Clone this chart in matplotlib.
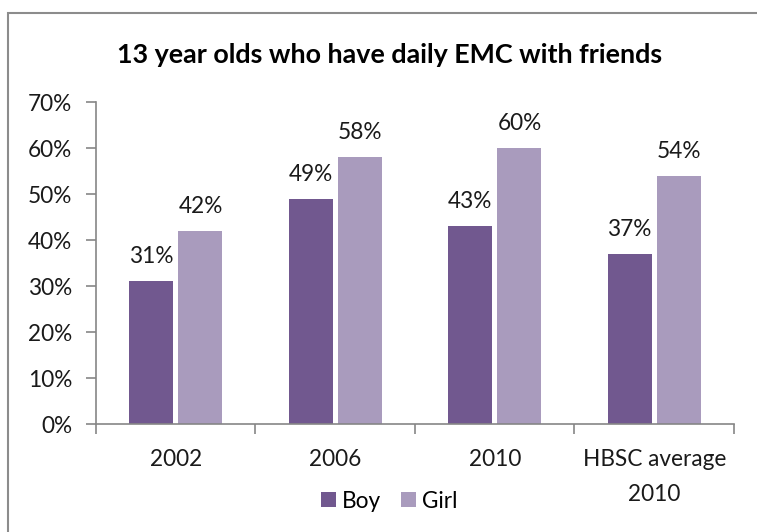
import matplotlib
matplotlib.use("Agg")
import matplotlib.pyplot as plt
from matplotlib.patches import Rectangle
import numpy as np

categories = ["2002", "2006", "2010", "HBSC average\n2010"]
boy = [31, 49, 43, 37]
girl = [42, 58, 60, 54]
yticks = [0, 10, 20, 30, 40, 50, 60, 70]

plt.rcParams["font.family"] = ["Lato", "DejaVu Sans"]

BOY_COLOR = "#71588F"
GIRL_COLOR = "#A99BBD"
AXIS_COLOR = "#868686"
FS = 16.3

fig = plt.figure(figsize=(7.57, 5.32), dpi=100)
ax = fig.add_axes([0.1268, 0.203, 0.8428, 0.605])

x = np.arange(len(categories))
w = 0.276
off = 0.155
bars_b = ax.bar(x - off, boy, w, color=BOY_COLOR, label="Boy", zorder=2)
bars_g = ax.bar(x + off, girl, w, color=GIRL_COLOR, label="Girl", zorder=2)

for bars, vals in ((bars_b, boy), (bars_g, girl)):
    for b, v in zip(bars, vals):
        ax.annotate(f"{v}%", (b.get_x() + b.get_width() / 2, v),
                    xytext=(0, 13.0), textcoords="offset points",
                    ha="center", va="baseline", fontsize=FS, color="#1a1a1a")

ax.set_xlim(-0.5, len(categories) - 0.5)
ax.set_ylim(0, 70)
ax.set_yticks(yticks)
ax.set_yticklabels([f"{t}%" for t in yticks], fontsize=FS, color="#1a1a1a")
ax.set_xticks(x)
ax.set_xticklabels(categories, fontsize=FS, color="#1a1a1a", linespacing=1.85)
ax.tick_params(axis="x", length=0, pad=18)
ax.tick_params(axis="y", length=7, width=1.2, color=AXIS_COLOR, pad=10)

# category separators on the x axis
ax.set_xticks(np.arange(len(categories) + 1) - 0.5, minor=True)
ax.tick_params(axis="x", which="minor", length=7, width=1.2, color=AXIS_COLOR,
               direction="out")

for s in ("top", "right"):
    ax.spines[s].set_visible(False)
for s in ("left", "bottom"):
    ax.spines[s].set_color(AXIS_COLOR)
    ax.spines[s].set_linewidth(1.2)

fig.text(0.5145, 0.897, "13 year olds who have daily EMC with friends",
         ha="center", va="center", fontsize=19.4, fontweight="bold", color="#000000")

leg = fig.legend(handles=[bars_b, bars_g], labels=["Boy", "Girl"],
                 loc="center", bbox_to_anchor=(0.514, 0.058), ncol=2,
                 frameon=False, fontsize=FS, handlelength=0.68,
                 handleheight=0.68, handletextpad=0.27, columnspacing=0.85,
                 borderpad=0.2)

# outer chart border
fig.patches.append(Rectangle((7.5 / 757, -0.05), 1.1, 1 - 12.5 / 532 + 0.05,
                             transform=fig.transFigure, fill=False,
                             edgecolor="#8c8c8c", linewidth=1.5))

fig.savefig("out.png", dpi=100)
